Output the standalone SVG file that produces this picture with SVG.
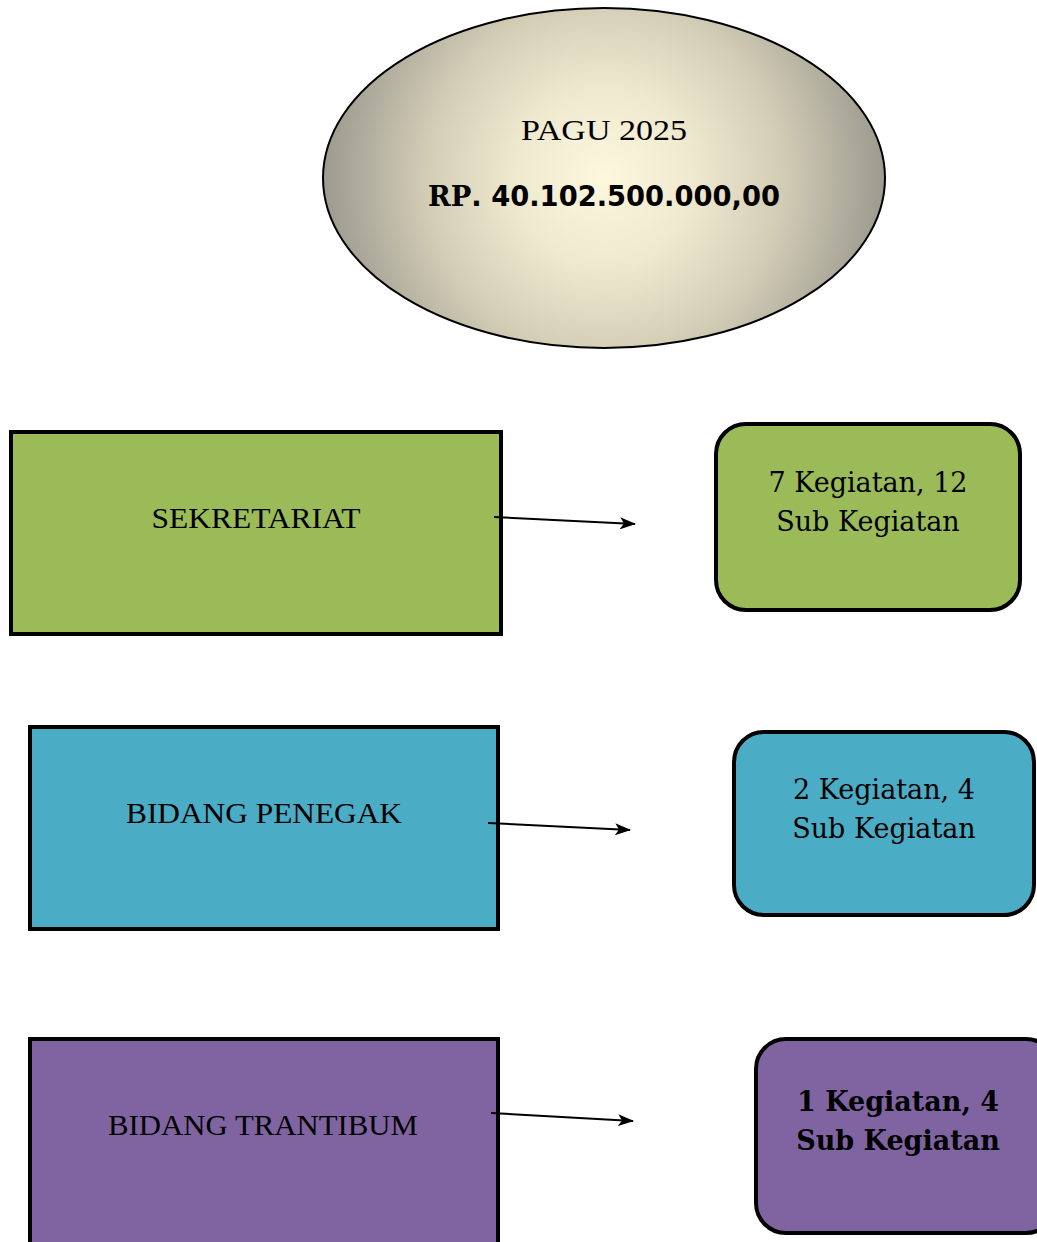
<svg xmlns="http://www.w3.org/2000/svg" width="1037" height="1242" viewBox="0 0 1037 1242">
  <defs>
    <radialGradient id="pagu-fill" gradientUnits="userSpaceOnUse" cx="604" cy="178" r="295">
      <stop offset="0" stop-color="#fcf7dd"/>
      <stop offset="0.3" stop-color="#efe9cf"/>
      <stop offset="0.6" stop-color="#d3cdb6"/>
      <stop offset="1" stop-color="#95938a"/>
    </radialGradient>
    <marker id="arrowhead" viewBox="0 0 16 12" refX="15" refY="6" markerWidth="16" markerHeight="12" markerUnits="userSpaceOnUse" orient="auto">
      <path d="M0,0 L16,6 L0,12 L4,6 Z" fill="#000"/>
    </marker>
  </defs>
  <style>
    .unit { stroke: #000; stroke-width: 4; }
    .result { stroke: #000; stroke-width: 4; }
    .green { fill: #9bbb59; }
    .blue { fill: #4bacc6; }
    .purple { fill: #8064a2; }
    .label { font-family: "Liberation Serif", "Times New Roman", serif; font-size: 30px; fill: #000; text-anchor: middle; }
    .count { font-family: "DejaVu Serif", "Liberation Serif", serif; font-size: 27px; fill: #000; text-anchor: middle; }
    .bold { font-weight: bold; }
    .link { stroke: #000; stroke-width: 2; fill: none; marker-end: url(#arrowhead); }
  </style>
  <rect width="1037" height="1242" fill="#fff"/>

  <!-- Total budget -->
  <g id="pagu">
    <ellipse cx="604" cy="178" rx="281" ry="170" fill="url(#pagu-fill)" stroke="#000" stroke-width="2"/>
    <text class="label" x="604" y="140" textLength="166" lengthAdjust="spacingAndGlyphs">PAGU 2025</text>
    <text x="604" y="206" text-anchor="middle" font-size="27.5" font-weight="bold" textLength="352" lengthAdjust="spacingAndGlyphs"><tspan font-family="DejaVu Serif, serif">RP</tspan><tspan font-family="DejaVu Sans, sans-serif">. 40.102.500.000,00</tspan></text>
  </g>

  <!-- Work units -->
  <g id="sekretariat">
    <rect class="unit green" x="11" y="432" width="490" height="202"/>
    <text class="label" x="256" y="528" textLength="209" lengthAdjust="spacingAndGlyphs">SEKRETARIAT</text>
  </g>
  <g id="bidang-penegak">
    <rect class="unit blue" x="30" y="727" width="468" height="202"/>
    <text class="label" x="264" y="823" textLength="276" lengthAdjust="spacingAndGlyphs">BIDANG PENEGAK</text>
  </g>
  <g id="bidang-trantibum">
    <rect class="unit purple" x="30" y="1039" width="468" height="210"/>
    <text class="label" x="263" y="1135" textLength="310" lengthAdjust="spacingAndGlyphs">BIDANG TRANTIBUM</text>
  </g>

  <!-- Activity counts -->
  <g id="kegiatan-sekretariat">
    <rect class="result green" x="716" y="424" width="304" height="186" rx="30"/>
    <text class="count" x="868" y="492">7 Kegiatan, 12</text>
    <text class="count" x="868" y="531">Sub Kegiatan</text>
  </g>
  <g id="kegiatan-penegak">
    <rect class="result blue" x="734" y="732" width="300" height="183" rx="30"/>
    <text class="count" x="884" y="799">2 Kegiatan, 4</text>
    <text class="count" x="884" y="838">Sub Kegiatan</text>
  </g>
  <g id="kegiatan-trantibum">
    <rect class="result purple" x="756" y="1039" width="300" height="194" rx="30"/>
    <text class="count bold" x="898" y="1111">1 Kegiatan, 4</text>
    <text class="count bold" x="898" y="1150">Sub Kegiatan</text>
  </g>

  <!-- Connectors -->
  <g id="connectors">
    <line class="link" x1="494" y1="517" x2="635" y2="524"/>
    <line class="link" x1="488" y1="823" x2="630" y2="830"/>
    <line class="link" x1="491" y1="1113" x2="633" y2="1121"/>
  </g>
</svg>
